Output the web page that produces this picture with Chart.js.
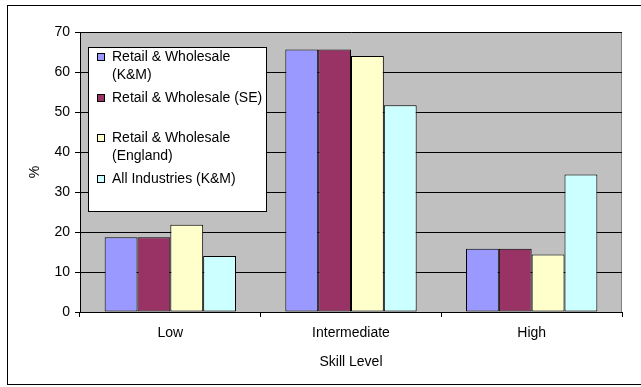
<!DOCTYPE html>
<html>
<head>
<meta charset="utf-8">
<script src="https://cdn.jsdelivr.net/npm/chart.js@4/dist/chart.umd.min.js"></script>
<style>
  html, body { margin: 0; padding: 0; background: #fff; }
  #wrap { position: relative; width: 641px; height: 387px; }
</style>
</head>
<body>
<div id="wrap"><canvas id="grafica" width="641" height="387"></canvas></div>
<script>
const skillLevels = ['Low', 'Intermediate', 'High'];
const retailKM = [18.7, 65.6, 15.8];
const retailSE = [18.7, 65.6, 15.8];
const retailEngland = [21.8, 64.0, 14.4];
const allIndustriesKM = [14.0, 51.7, 34.4];
const yTicks = [0, 10, 20, 30, 40, 50, 60, 70];

// legend labels split into lines the way the box wraps them
const legendLines = [
    ['Retail & Wholesale', '(K&M)'],
    ['Retail & Wholesale (SE)'],
    ['Retail & Wholesale', '(England)'],
    ['All Industries (K&M)']
];
const legendRows = [[57, 75], [98], [138, 156], [179]];

const FONT = '"Liberation Sans", Arial, sans-serif';

// grey plot area, framed border and the boxed legend
const chartDecor = {
    id: 'chartDecor',
    beforeDraw(chart) {
        const { ctx, chartArea: a } = chart;
        ctx.save();
        ctx.strokeStyle = '#000';
        ctx.lineWidth = 1;
        ctx.strokeRect(7.5, 5.5, 700, 379);
        ctx.fillStyle = '#c0c0c0';
        ctx.fillRect(a.left, a.top, a.right - a.left, a.bottom - a.top);
        ctx.strokeStyle = '#808080';
        ctx.strokeRect(a.left + 0.5, a.top + 0.5, a.right - a.left - 1, a.bottom - a.top);
        ctx.restore();
    },
    afterDraw(chart) {
        const { ctx } = chart;
        ctx.save();
        ctx.fillStyle = '#fff';
        ctx.fillRect(88, 47, 179, 165);
        ctx.strokeStyle = '#000';
        ctx.lineWidth = 1;
        ctx.strokeRect(88.5, 47.5, 178, 164);
        ctx.font = '14px ' + FONT;
        ctx.textBaseline = 'middle';
        chart.data.datasets.forEach((ds, i) => {
            const rows = legendRows[i];
            ctx.fillStyle = ds.backgroundColor;
            ctx.fillRect(97, rows[0] - 4, 7, 7);
            ctx.strokeStyle = '#000';
            ctx.strokeRect(97.5, rows[0] - 3.5, 7, 7);
            ctx.fillStyle = '#000';
            legendLines[i].forEach((line, j) => ctx.fillText(line, 112, rows[j]));
        });
        ctx.restore();
    }
};

const barStyle = { borderColor: '#000', borderWidth: 1, borderSkipped: false,
    categoryPercentage: 0.727, barPercentage: 1.0 };

new Chart(document.getElementById('grafica'), {
    type: 'bar',
    data: {
        labels: skillLevels,
        datasets: [
            { label: 'Retail & Wholesale (K&M)', data: retailKM, backgroundColor: '#9999ff', ...barStyle },
            { label: 'Retail & Wholesale (SE)', data: retailSE, backgroundColor: '#993366', ...barStyle },
            { label: 'Retail & Wholesale (England)', data: retailEngland, backgroundColor: '#ffffcc', ...barStyle },
            { label: 'All Industries (K&M)', data: allIndustriesKM, backgroundColor: '#ccffff', ...barStyle }
        ]
    },
    options: {
        responsive: false,
        animation: false,
        layout: { padding: { left: 0, right: 19, top: 32, bottom: 0 } },
        plugins: {
            legend: { display: false },
            tooltip: { enabled: false }
        },
        scales: {
            x: {
                offset: true,
                grid: { display: true, drawOnChartArea: false, drawTicks: true, tickLength: 5,
                        color: '#000', offset: true },
                border: { display: true, color: '#000' },
                ticks: { color: '#000', font: { family: FONT, size: 14 }, padding: 8, maxRotation: 0 },
                title: { display: true, text: 'Skill Level', color: '#000',
                         font: { family: FONT, size: 14 }, padding: { top: 0, bottom: 16 } },
                afterFit(scale) { scale.height = 75; }
            },
            y: {
                min: 0,
                max: 70,
                afterBuildTicks(scale) { scale.ticks = yTicks.map(v => ({ value: v })); },
                grid: {
                    color: '#000',
                    tickColor: '#000',
                    tickLength: 5
                },
                border: { display: true, color: '#000' },
                ticks: { color: '#000', font: { family: FONT, size: 14 }, padding: 5 },
                title: { display: true, text: '%', color: '#000',
                         font: { family: FONT, size: 14 }, padding: { top: 27, bottom: 0 } },
                afterFit(scale) { scale.width = 80; }
            }
        }
    },
    plugins: [chartDecor]
});
</script>
</body>
</html>
